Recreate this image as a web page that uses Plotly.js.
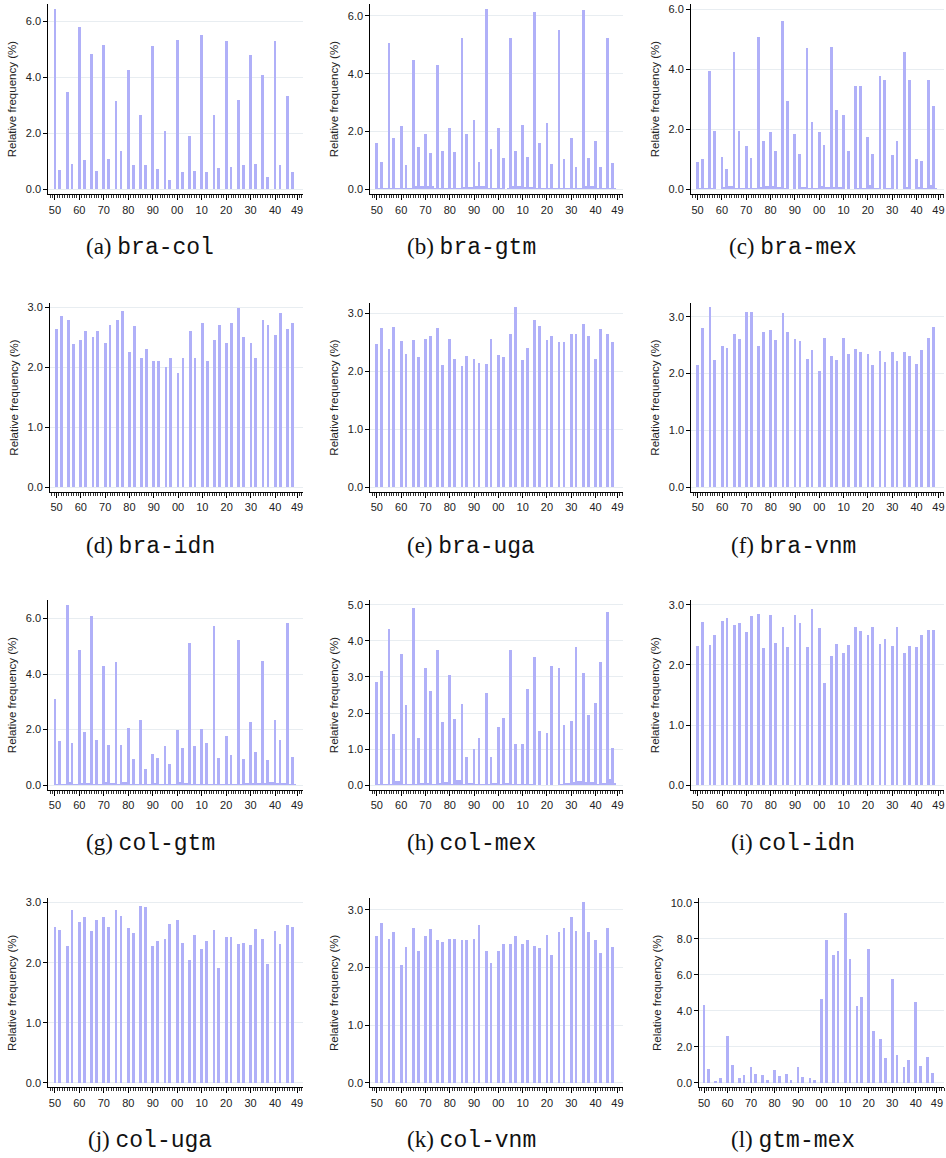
<!DOCTYPE html>
<html><head><meta charset="utf-8">
<script src="https://cdn.plot.ly/plotly-3.0.1.min.js"></script>
<style>html,body{margin:0;padding:0;background:#fff}#chart{width:946px;height:1158px}</style>
</head><body><div id="chart"></div>
<script>
const years = [1950,1952,1955,1957,1960,1962,1965,1967,1970,1972,1975,1977,1980,1982,1985,1987,1990,1992,1995,1997,
               2000,2002,2005,2007,2010,2012,2015,2017,2020,2022,2025,2027,2030,2032,2035,2037,2040,2042,2045,2047];
const minorYears = [1951,1953,1954,1956,1958,1959, 1961,1963,1964,1966,1968,1969, 1971,1973,1974,1976,1978,1979,
                    1981,1983,1984,1986,1988,1989, 1991,1993,1994,1996,1998,1999, 2001,2003,2004,2006,2008,2009,
                    2011,2013,2014,2016,2018,2019, 2021,2023,2024,2026,2028,2029, 2031,2033,2034,2036,2038,2039,
                    2041,2043,2044,2046,2048,2049];
const tickYears = [1950,1960,1970,1980,1990,2000,2010,2020,2030,2040,2049];
const tickLabels = ['50','60','70','80','90','00','10','20','30','40','49'];

const braCol = [6.44,0.69,3.48,0.90,5.80,1.05,4.83,0.65,5.15,1.08,3.15,1.37,4.26,0.88,2.65,0.88,5.12,0.73,2.08,0.33,
                5.33,0.60,1.90,0.65,5.51,0.62,2.65,0.77,5.30,0.81,3.20,0.85,4.80,0.92,4.08,0.45,5.30,0.88,3.33,0.60];
const braGtm = [1.59,0.93,5.06,1.78,2.19,0.84,4.48,1.46,1.91,1.26,4.30,1.33,2.12,1.29,5.24,1.91,2.40,0.95,6.24,1.40,
                2.12,1.08,5.24,1.33,2.23,1.12,6.14,1.60,2.30,0.88,5.51,1.05,1.78,0.77,6.20,1.08,1.67,0.77,5.24,0.91];
const braMex = [0.91,1.01,3.94,1.94,1.08,0.68,4.58,1.94,1.44,1.04,5.08,1.61,1.91,1.28,5.61,2.94,1.84,1.18,4.71,2.24,
                1.91,1.48,4.74,2.64,2.48,1.28,3.44,3.44,1.74,1.18,3.78,3.64,1.14,1.61,4.58,3.64,1.01,0.94,3.64,2.78];
const braIdn = [2.63,2.86,2.78,2.38,2.46,2.60,2.51,2.60,2.40,2.70,2.78,2.93,2.25,2.68,2.16,2.31,2.10,2.10,2.01,2.15,
                1.91,2.15,2.61,2.15,2.74,2.11,2.45,2.70,2.40,2.74,2.99,2.50,2.40,2.15,2.78,2.71,2.53,2.90,2.63,2.74];
const braUga = [2.47,2.75,2.39,2.76,2.52,2.30,2.54,2.25,2.56,2.61,2.75,2.11,2.56,2.21,2.09,2.26,2.21,2.15,2.13,2.56,
                2.28,2.25,2.64,3.11,2.20,2.40,2.89,2.78,2.54,2.61,2.51,2.51,2.64,2.64,2.82,2.61,2.21,2.73,2.64,2.51];
const braVnm = [2.15,2.80,3.17,2.24,2.49,2.45,2.70,2.61,3.08,3.08,2.49,2.73,2.77,2.59,3.06,2.73,2.61,2.57,2.26,2.42,
                2.05,2.63,2.31,2.24,2.63,2.35,2.43,2.38,2.35,2.15,2.40,2.20,2.38,2.22,2.38,2.31,2.17,2.42,2.63,2.82];
const colGtm = [3.10,1.59,6.49,1.52,4.87,1.92,6.07,1.63,4.29,1.45,4.44,1.45,2.07,0.95,2.35,0.59,1.13,0.98,1.41,0.77,
                1.99,1.34,5.12,1.41,2.03,1.52,5.73,0.98,1.77,1.09,5.23,0.95,2.29,1.20,4.47,0.91,2.35,1.63,5.82,1.02];
const colMex = [2.86,3.16,4.32,1.42,3.63,2.22,4.91,1.31,3.24,2.60,3.75,1.75,3.05,1.84,2.25,0.78,1.01,1.31,2.56,0.78,
                1.61,1.86,3.75,1.14,1.14,2.67,3.55,1.50,1.45,3.30,3.24,1.67,1.78,3.83,3.11,1.95,2.28,3.42,4.80,1.02];
const colIdn = [2.31,2.71,2.33,2.50,2.73,2.78,2.66,2.70,2.55,2.81,2.84,2.28,2.83,2.36,2.63,2.30,2.83,2.70,2.30,2.93,
                2.61,1.70,2.15,2.35,2.20,2.33,2.63,2.56,2.50,2.63,2.35,2.43,2.31,2.63,2.20,2.31,2.30,2.50,2.58,2.58];
const colUga = [2.60,2.55,2.28,2.88,2.68,2.76,2.53,2.71,2.76,2.60,2.88,2.78,2.58,2.50,2.94,2.93,2.28,2.36,2.40,2.65,
                2.71,2.33,2.05,2.46,2.23,2.36,2.55,1.91,2.43,2.43,2.31,2.33,2.30,2.56,2.40,1.98,2.53,2.31,2.62,2.60];
const colVnm = [2.54,2.77,2.50,2.61,2.05,2.35,2.69,2.29,2.55,2.66,2.48,2.44,2.50,2.50,2.48,2.48,2.50,2.73,2.29,2.07,
                2.29,2.40,2.40,2.54,2.40,2.48,2.38,2.33,2.57,2.21,2.62,2.68,2.88,2.64,3.13,2.62,2.47,2.25,2.68,2.35];
const gtmMex = [4.33,0.80,0.11,0.28,2.61,1.00,0.28,0.44,0.89,0.52,0.44,0.17,0.72,0.39,0.50,0.17,0.91,0.33,0.28,0.17,
                4.67,7.94,7.11,7.33,9.44,6.89,4.28,4.80,7.44,2.89,2.44,1.39,5.78,1.56,0.89,1.28,4.50,0.94,1.44,0.57];

// near-zero values in the remaining years (only where they are visible)
const braGtmMinor = [0.05,0.06,0.06,0.05,0.04,0.04, 0.05,0.06,0.06,0.10,0.10,0.10, 0.12,0.10,0.06,0.05,0.05,0.04,
                     0.04,0.05,0.06,0.08,0.08,0.08, 0.10,0.10,0.10,0.06,0.06,0.05, 0.04,0.03,0.05,0.10,0.10,0.10,
                     0.08,0.08,0.08,0.04,0.04,0.04, 0.06,0.06,0.06,0.06,0.06,0.06, 0.06,0.06,0.06,0.10,0.10,0.10,
                     0.05,0.06,0.06,0.06,0.06,0.00];
const braMexMinor = [0.03,0.03,0.03,0.03,0.02,0.02, 0.06,0.12,0.12,0.03,0.05,0.05, 0.05,0.05,0.05,0.07,0.12,0.12,
                     0.10,0.09,0.09,0.03,0.00,0.00, 0.00,0.07,0.07,0.03,0.03,0.03, 0.10,0.08,0.08,0.08,0.09,0.09,
                     0.00,0.02,0.02,0.03,0.03,0.03, 0.15,0.05,0.05,0.02,0.05,0.05, 0.02,0.02,0.02,0.08,0.02,0.02,
                     0.08,0.05,0.05,0.13,0.05,0.00];
const colGtmMinor = [0.05,0.05,0.05,0.12,0.05,0.05, 0.08,0.08,0.08,0.06,0.06,0.06, 0.12,0.08,0.08,0.05,0.12,0.12,
                     0.05,0.05,0.05,0.05,0.05,0.05, 0.08,0.05,0.05,0.05,0.05,0.05, 0.12,0.08,0.08,0.03,0.03,0.03,
                     0.03,0.03,0.03,0.03,0.03,0.03, 0.03,0.03,0.03,0.05,0.08,0.08, 0.08,0.08,0.08,0.08,0.12,0.12,
                     0.08,0.08,0.08,0.05,0.05,0.00];
const colMexMinor = [0.03,0.05,0.05,0.03,0.12,0.12, 0.03,0.05,0.05,0.03,0.07,0.07, 0.07,0.03,0.03,0.07,0.10,0.10,
                     0.03,0.15,0.15,0.05,0.07,0.07, 0.03,0.05,0.05,0.05,0.07,0.07, 0.03,0.07,0.07,0.03,0.05,0.05,
                     0.03,0.05,0.05,0.02,0.02,0.02, 0.02,0.02,0.02,0.03,0.07,0.07, 0.10,0.12,0.12,0.08,0.08,0.08,
                     0.03,0.07,0.07,0.17,0.07,0.00];

const panelNames = ['bra-col','bra-gtm','bra-mex','bra-idn','bra-uga','bra-vnm','col-gtm','col-mex','col-idn','col-uga','col-vnm','gtm-mex'];
const panelTags = ['(a)','(b)','(c)','(d)','(e)','(f)','(g)','(h)','(i)','(j)','(k)','(l)'];
const panelValues = [braCol,braGtm,braMex,braIdn,braUga,braVnm,colGtm,colMex,colIdn,colUga,colVnm,gtmMex];
const panelMinor = [null,braGtmMinor,braMexMinor,null,null,null,colGtmMinor,colMexMinor,null,null,null,null];

// geometry (pixels) — layout only
const W = 946, H = 1158;
const geom = [
  {x0:48.3,x1:302.7,y0:4,y1:194.3,  yr:[-0.18,6.62], dt:2, xr:[1947.3,2051.3], cx:150, cy:248},
  {x0:370.3,x1:623,y0:4,y1:194.3,   yr:[-0.17,6.41], dt:2, xr:[1947.3,2051.3], cx:471, cy:248},
  {x0:691,x1:944,y0:4,y1:194.3,     yr:[-0.17,6.18], dt:2, xr:[1947.3,2051.3], cx:793, cy:248},
  {x0:50,x1:302.7,y0:303,y1:492,    yr:[-0.08,3.07], dt:1, xr:[1947.3,2051.3], cx:150, cy:546},
  {x0:370.3,x1:623,y0:303,y1:492,   yr:[-0.08,3.18], dt:1, xr:[1947.3,2051.3], cx:471, cy:546},
  {x0:691.3,x1:944,y0:303,y1:492,   yr:[-0.08,3.24], dt:1, xr:[1947.3,2051.3], cx:793, cy:546},
  {x0:48.3,x1:302.7,y0:600,y1:790,  yr:[-0.17,6.66], dt:2, xr:[1947.3,2051.3], cx:150, cy:843},
  {x0:370.3,x1:623,y0:600,y1:790,   yr:[-0.13,5.13], dt:1, xr:[1947.3,2051.3], cx:471, cy:843},
  {x0:691.3,x1:944,y0:600,y1:790,   yr:[-0.08,3.08], dt:1, xr:[1947.3,2051.3], cx:793, cy:843},
  {x0:48.3,x1:302.7,y0:898.3,y1:1087.3, yr:[-0.072,3.07], dt:1, xr:[1947.3,2051.3], cx:150, cy:1140},
  {x0:370.3,x1:623,y0:898.3,y1:1087.3,  yr:[-0.08,3.2],  dt:1, xr:[1947.3,2051.3], cx:471, cy:1140},
  {x0:699.3,x1:944,y0:898.3,y1:1087.3,  yr:[-0.24,10.26], dt:2, xr:[1948,2052], cx:793, cy:1140}
];

const barColor = '#b0b0f8';
const tickFont = {family:'Liberation Sans, Arial, sans-serif', size:11, color:'#222'};
const traces = [];
const layout = {
  width: W, height: H, margin:{l:0,r:0,t:0,b:0}, showlegend:false,
  paper_bgcolor:'#fff', plot_bgcolor:'#fff', bargap:0, barmode:'overlay', annotations:[]
};

panelValues.forEach((vals, i) => {
  const n = i + 1, g = geom[i];
  if (panelMinor[i]) {
    traces.push({type:'bar', x: minorYears, y: panelMinor[i], xaxis:'x'+n, yaxis:'y'+n,
      marker:{color:barColor, line:{width:0}}, opacity:1, width:1.05, hoverinfo:'skip'});
  }
  traces.push({type:'bar', x: years, y: vals, xaxis:'x'+n, yaxis:'y'+n,
    marker:{color:barColor, line:{width:0}}, opacity:1, width:1.15, hoverinfo:'skip'});
  layout['xaxis'+n] = {
    domain:[g.x0/W, g.x1/W], range:g.xr, anchor:'y'+n, type:'linear',
    showline:true, linecolor:'#000', linewidth:1, mirror:false,
    ticks:'outside', ticklen:5, tickwidth:1, tickcolor:'#000',
    tickmode:'array', tickvals:tickYears, ticktext:tickLabels, tickfont:tickFont,
    showgrid:false, zeroline:false, fixedrange:true,
    minor:{tickmode:'linear', tick0:1950, dtick:1, ticks:'outside', ticklen:2.5, tickwidth:0.8, tickcolor:'#000', showgrid:false}
  };
  layout['yaxis'+n] = {
    domain:[1 - g.y1/H, 1 - g.y0/H], range:g.yr, anchor:'x'+n,
    showline:true, linecolor:'#000', linewidth:1, mirror:false,
    ticks:'outside', ticklen:4, tickwidth:1, tickcolor:'#000',
    tickmode:'linear', tick0:0, dtick:g.dt, tickformat:'.1f', tickfont:tickFont,
    showgrid:true, gridcolor:'#e8edf1', gridwidth:1, zeroline:false, fixedrange:true,
    title:{text:'Relative frequency (%)', font:{family:'Liberation Sans, Arial, sans-serif', size:11.5, color:'#222'}, standoff:6}
  };
  layout.annotations.push({
    xref:'paper', yref:'paper', x:g.cx/W, y:1 - g.cy/H, xanchor:'center', yanchor:'middle', showarrow:false,
    text: '<span style="font-family:Liberation Serif, serif">' + panelTags[i] + ' </span>' +
          '<span style="font-family:Liberation Mono, monospace">' + panelNames[i] + '</span>',
    font:{family:'Liberation Serif, serif', size:23, color:'#111'}
  });
});

Plotly.newPlot('chart', traces, layout, {staticPlot:true, displayModeBar:false});
</script>
</body></html>
